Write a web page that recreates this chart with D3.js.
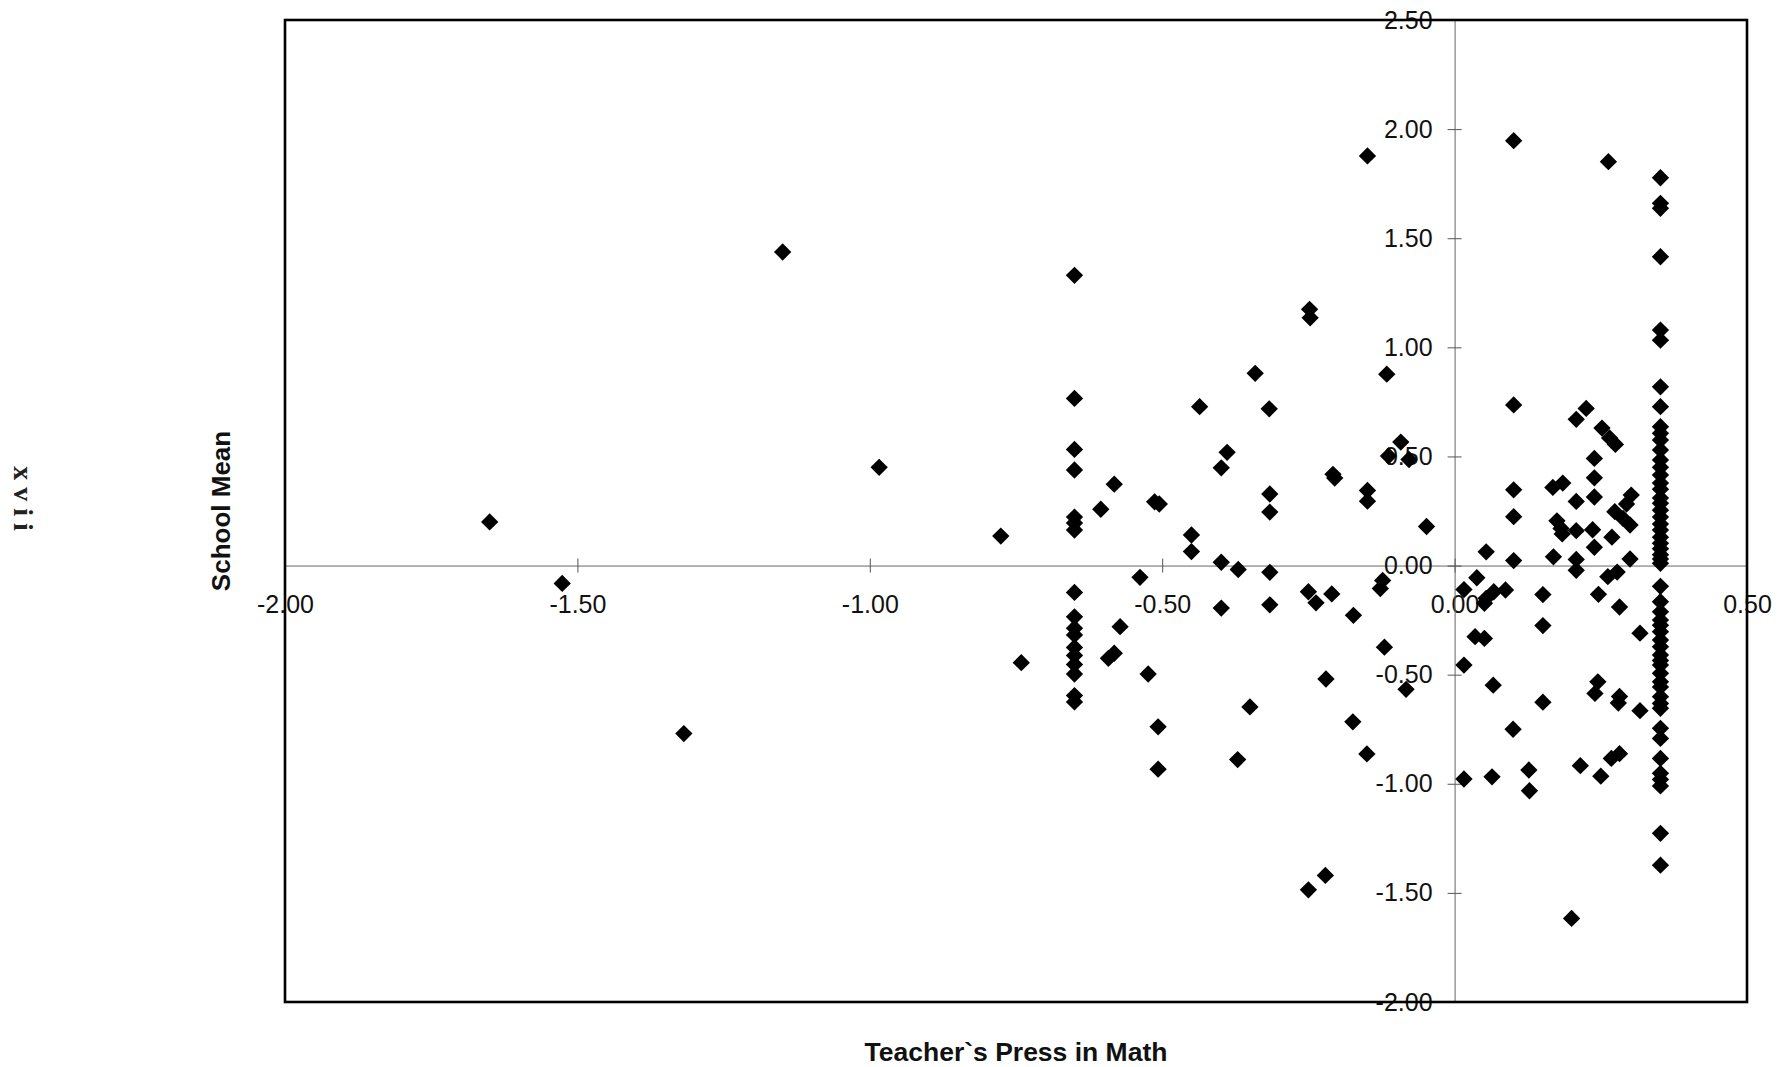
<!DOCTYPE html>
<html><head><meta charset="utf-8">
<script src="https://cdn.jsdelivr.net/npm/d3@7"></script>
<style>body{margin:0;background:#fff}</style>
</head><body>
<svg id="chart" width="1781" height="1067"></svg>
<script>
const xTicks = [-2, -1.5, -1, -0.5, 0, 0.5];
const yTicks = [2.5, 2, 1.5, 1, 0.5, 0, -0.5, -1, -1.5, -2];
const xTitle = "Teacher`s Press in Math";
const yTitle = "School Mean";
const pageMark = "xvii";

// scattered schools (Teacher's Press, School Mean)
const scatterX = [-1.650,-1.526,-1.318,-1.149,-0.984,-0.776,-0.741,-0.605,-0.582,-0.592,-0.582,-0.572,-0.538,-0.524,-0.513,-0.505,-0.507,-0.507,
  -0.450,-0.450,-0.436,-0.399,-0.389,-0.399,-0.399,-0.370,-0.371,-0.350,-0.341,-0.317,-0.316,-0.316,-0.316,-0.316,
  -0.248,-0.247,-0.250,-0.237,-0.250,-0.221,-0.220,-0.210,-0.208,-0.205,-0.173,-0.174,-0.150,-0.149,-0.149,-0.149,
  -0.123,-0.127,-0.120,-0.116,-0.113,-0.092,-0.078,-0.083,-0.048,
  0.016,0.016,0.016,0.038,0.054,0.067,0.054,0.051,0.035,0.051,0.066,0.064,0.087,
  0.101,0.101,0.101,0.101,0.101,0.100,0.127,0.128,0.151,0.151,0.151,0.168,0.185,0.169,0.175,0.182,0.184,0.200,
  0.208,0.208,0.208,0.208,0.208,0.215,0.225,0.236,0.239,0.239,0.239,0.239,0.246,0.245,0.240,0.250,0.252,0.265,0.275,
  0.263,0.262,0.278,0.269,0.268,0.282,0.282,0.282,0.280,0.274,0.288,0.300,0.302,0.294,0.300,0.317,0.317];
const scatterY = [0.200,-0.082,-0.770,1.437,0.450,0.135,-0.445,0.258,0.373,-0.425,-0.402,-0.280,-0.054,-0.497,0.292,0.282,-0.739,-0.933,
  0.140,0.064,0.728,0.448,0.519,0.015,-0.195,-0.018,-0.889,-0.648,0.881,0.718,0.328,0.245,-0.031,-0.180,
  1.174,1.135,-0.120,-0.171,-1.486,-1.420,-0.520,-0.130,0.418,0.401,-0.228,-0.716,-0.863,1.877,0.344,0.295,
  -0.068,-0.105,-0.374,0.877,0.502,0.566,0.486,-0.567,0.179,
  -0.110,-0.456,-0.978,-0.056,0.063,-0.120,-0.150,-0.173,-0.326,-0.334,-0.548,-0.968,-0.112,
  1.947,0.736,0.347,0.224,0.023,-0.750,-0.937,-1.032,-0.133,-0.275,-0.626,0.358,0.378,0.040,0.205,0.170,0.145,-1.617,
  0.670,0.294,0.160,0.028,-0.022,-0.917,0.720,0.164,0.491,0.402,0.314,0.084,-0.132,-0.533,-0.586,-0.965,0.630,0.585,0.555,
  1.851,-0.051,-0.030,0.130,-0.884,-0.862,-0.190,-0.600,-0.630,0.247,0.216,0.186,0.323,0.282,0.030,-0.310,-0.665];

// schools stacked at the same press value
const stackLeftX = -0.650;
const stackLeftY = [1.330,0.766,0.532,0.438,0.222,0.195,0.163,-0.123,-0.235,-0.287,-0.318,-0.375,-0.412,-0.453,-0.497,-0.596,-0.625];
const stackRightX = 0.352;
const stackRightY = [1.777,1.660,1.637,1.415,1.079,1.033,0.819,0.728,0.636,0.606,0.575,0.530,0.484,0.450,0.415,0.378,0.350,0.310,
  0.285,0.254,0.222,0.190,0.163,0.130,0.102,0.077,0.050,0.030,0.010,-0.095,-0.166,-0.212,-0.250,-0.273,-0.303,-0.341,-0.372,
  -0.410,-0.435,-0.456,-0.494,-0.533,-0.556,-0.601,-0.632,-0.654,-0.746,-0.792,-0.884,-0.952,-0.980,-1.010,-1.227,-1.373];

const points = scatterX.map((v, i) => ({px: v, py: scatterY[i]}))
  .concat(stackLeftY.map(v => ({px: stackLeftX, py: v})))
  .concat(stackRightY.map(v => ({px: stackRightX, py: v})));

const svg = d3.select("#chart");
const plotL = 285, plotR = 1747, plotT = 20, plotB = 1002;
const xs = d3.scaleLinear().domain([-2, 0.5]).range([plotL, plotR]);
const ys = d3.scaleLinear().domain([-2, 2.5]).range([plotB, plotT]);
const fmt = d3.formatLocale({decimal: ".", thousands: ",", grouping: [3], currency: ["", ""], minus: "-"}).format(".2f");
const font = "'Liberation Sans', Arial, sans-serif";

// x axis through y = 0
const gx = svg.append("g").attr("transform", `translate(0,${ys(0)})`)
  .call(d3.axisBottom(xs).tickValues(xTicks).tickFormat(fmt).tickSizeInner(7).tickSizeOuter(0).tickPadding(23));
// y axis through x = 0
const gy = svg.append("g").attr("transform", `translate(${xs(0)},0)`)
  .call(d3.axisLeft(ys).tickValues(yTicks).tickFormat(fmt).tickSizeInner(7).tickSizeOuter(0).tickPadding(15));

[gx, gy].forEach(g => {
  g.select(".domain").attr("stroke", "#666").attr("stroke-width", 1);
  g.selectAll(".tick line").attr("stroke", "#555").attr("stroke-width", 1);
  g.selectAll(".tick text").attr("font-family", font).attr("font-size", 25).attr("fill", "#111");
});
gx.selectAll(".tick line").attr("y1", -7).attr("y2", 7);
gy.selectAll(".tick line").attr("x1", -7).attr("x2", 7);

// points
svg.append("g").selectAll("path").data(points).join("path")
  .attr("d", d3.symbol().type(d3.symbolSquare).size(150))
  .attr("transform", d => `translate(${xs(d.px)},${ys(d.py)}) rotate(45)`)
  .attr("fill", "#000");

// frame
svg.append("rect").attr("x", plotL).attr("y", plotT).attr("width", plotR - plotL).attr("height", plotB - plotT)
  .attr("fill", "none").attr("stroke", "#000").attr("stroke-width", 2.6);

// titles
svg.append("text").attr("transform", `translate(229.5,${(plotT + plotB) / 2}) rotate(-90)`)
  .attr("text-anchor", "middle").attr("font-family", font).attr("font-weight", "bold").attr("font-size", 26)
  .attr("fill", "#111").text(yTitle);
svg.append("text").attr("x", (plotL + plotR) / 2).attr("y", 1061)
  .attr("text-anchor", "middle").attr("font-family", font).attr("font-weight", "bold").attr("font-size", 26.5)
  .attr("fill", "#111").text(xTitle);
svg.append("text").attr("transform", "translate(14,502) rotate(90)")
  .attr("text-anchor", "middle").attr("font-family", "'Liberation Serif', 'Times New Roman', serif").attr("font-size", 28)
  .attr("font-weight", "bold").attr("letter-spacing", 7).attr("fill", "#222").text(pageMark);
</script>
</body></html>
